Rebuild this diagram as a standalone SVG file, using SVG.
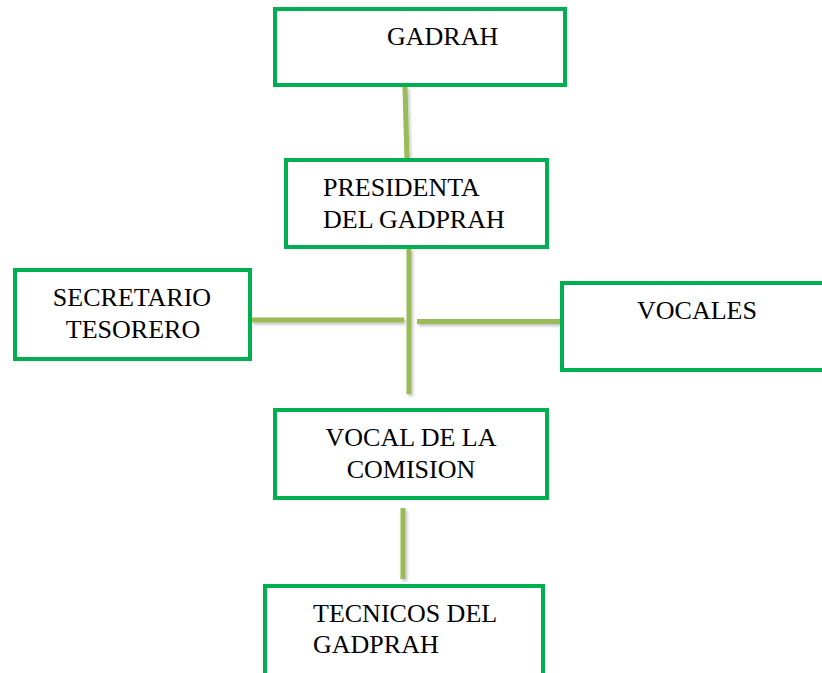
<svg xmlns="http://www.w3.org/2000/svg" width="822" height="673" viewBox="0 0 822 673">
<style>
.box{fill:#fff;stroke:#00B050;stroke-width:4}
text{font-family:'Liberation Serif','Times New Roman',Times,'DejaVu Serif',serif;font-size:26px;fill:#000}
.c{fill:#9BBB59}
</style>
<defs>
<filter id="sh" filterUnits="userSpaceOnUse" x="0" y="0" width="822" height="673">
<feDropShadow dx="1.5" dy="2" stdDeviation="1.5" flood-color="#000" flood-opacity="0.25"/>
</filter>
</defs>
<rect width="822" height="673" fill="#fff"/>
<g id="connectors" filter="url(#sh)">
<polygon class="c" points="402.5,87 407.5,87 409.5,159 404.5,159"/>
<rect class="c" x="406.5" y="249" width="5" height="145"/>
<rect class="c" x="252" y="317.5" width="152" height="5"/>
<rect class="c" x="417" y="319" width="145" height="5"/>
<rect class="c" x="400.5" y="508" width="5" height="71"/>
</g>
<g id="gadrah">
<rect class="box" x="275" y="9" width="290" height="76"/>
<text x="387" y="45">GADRAH</text>
</g>
<g id="presidenta">
<rect class="box" x="286" y="160" width="261" height="87"/>
<text x="323" y="196">PRESIDENTA</text>
<text x="323" y="228">DEL GADPRAH</text>
</g>
<g id="secretario">
<rect class="box" x="15" y="270" width="235" height="89"/>
<text x="132" y="306" text-anchor="middle">SECRETARIO</text>
<text x="133" y="338" text-anchor="middle">TESORERO</text>
</g>
<g id="vocales">
<rect class="box" x="562" y="283" width="270" height="87"/>
<text x="637" y="319">VOCALES</text>
</g>
<g id="vocal-comision">
<rect class="box" x="275" y="410" width="272" height="88"/>
<text x="411" y="446" text-anchor="middle">VOCAL DE LA</text>
<text x="411" y="478" text-anchor="middle">COMISION</text>
</g>
<g id="tecnicos">
<rect class="box" x="265" y="586" width="278" height="100"/>
<text x="313" y="622">TECNICOS DEL</text>
<text x="313" y="653">GADPRAH</text>
</g>
</svg>
